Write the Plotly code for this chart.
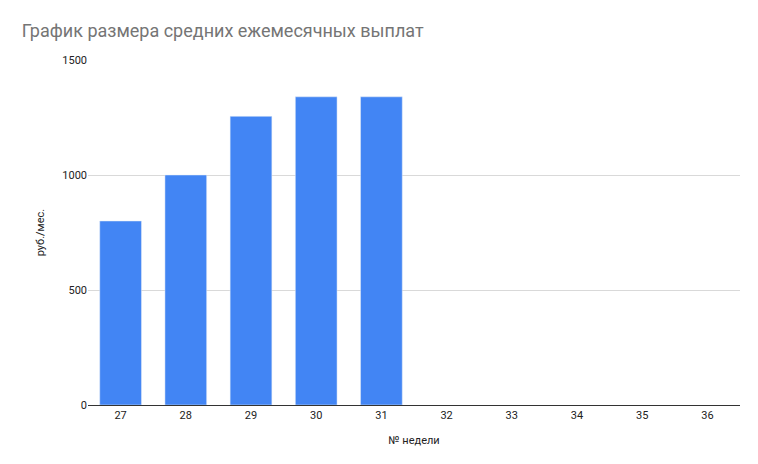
import plotly.graph_objects as go

weeks = ["27","28","29","30","31","32","33","34","35","36"]
values = [800, 1000, 1255, 1340, 1340, None, None, None, None, None]

fig = go.Figure(go.Bar(x=weeks, y=values, marker_color="#4285f4", width=0.64))
fig.update_layout(
    width=758, height=464, plot_bgcolor="white", paper_bgcolor="white",
    margin=dict(l=80, r=26, t=52, b=67),
    font=dict(family="Roboto, Arial", size=11, color="#222"),
    title=dict(text="График размера средних ежемесячных выплат", x=0.018, y=0.965,
               xanchor="left", font=dict(size=18, color="#757575")),
    showlegend=False,
)
fig.update_xaxes(type="category", showline=True, linecolor="#333", ticks="",
                 title=dict(text="№ недели", font=dict(size=11)))
fig.update_yaxes(range=[0,1500], tickvals=[0,500,1000,1500], gridcolor="#d9d9d9",
                 zeroline=False, title=dict(text="руб./мес.", font=dict(size=11)))
fig.write_html("out.html")
